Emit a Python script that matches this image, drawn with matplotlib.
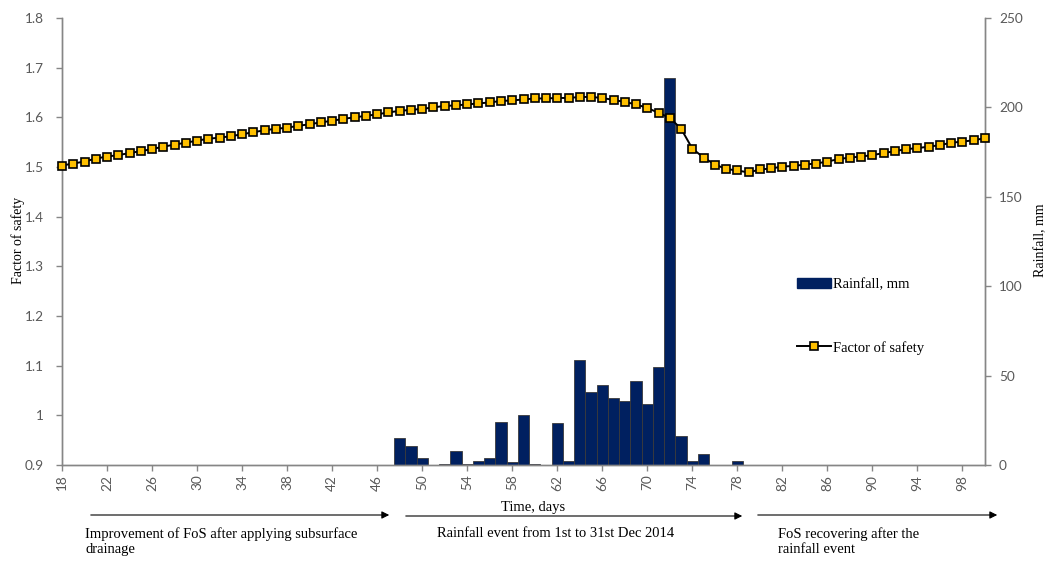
import matplotlib
matplotlib.use("Agg")
import matplotlib.pyplot as plt
from matplotlib.patches import Patch, FancyArrowPatch
from matplotlib.lines import Line2D

# ---------------- data ----------------
days = list(range(18, 101))

fos = [1.503, 1.507, 1.511, 1.517, 1.521, 1.524, 1.528, 1.532, 1.536, 1.541,
       1.545, 1.549, 1.553, 1.557, 1.559, 1.562, 1.566, 1.570, 1.574, 1.577,
       1.579, 1.583, 1.586, 1.590, 1.593, 1.597, 1.600, 1.603, 1.606, 1.610,
       1.613, 1.615, 1.617, 1.620, 1.623, 1.624, 1.626, 1.628, 1.630, 1.633,
       1.634, 1.636, 1.638, 1.638, 1.639, 1.639, 1.641, 1.641, 1.639, 1.635,
       1.631, 1.626, 1.619, 1.609, 1.599, 1.577, 1.537, 1.519, 1.505, 1.496,
       1.493, 1.489, 1.495, 1.497, 1.501, 1.502, 1.505, 1.507, 1.511, 1.516,
       1.519, 1.521, 1.524, 1.528, 1.532, 1.536, 1.538, 1.541, 1.544, 1.549,
       1.551, 1.554, 1.558]

rain_days = list(range(48, 79))
rain_vals = [15.0, 10.5, 3.7, 0.0, 0.5, 7.8, 0.5, 2.0, 3.7, 24.0,
             1.5, 28.0, 0.5, 0.0, 23.5, 2.0, 59.0, 41.0, 45.0, 37.7,
             35.6, 47.2, 34.0, 54.8, 216.5, 16.2, 2.4, 6.3, 0.0, 0.0,
             2.0]

x_tick_days = list(range(18, 99, 4))
fos_ticks = [0.9, 1.0, 1.1, 1.2, 1.3, 1.4, 1.5, 1.6, 1.7, 1.8]
fos_tick_labels = ["0.9", "1", "1.1", "1.2", "1.3", "1.4", "1.5", "1.6", "1.7", "1.8"]
rain_ticks = [0, 50, 100, 150, 200, 250]

notes = ["Improvement of FoS after applying subsurface\ndrainage",
         "Rainfall event from 1st to 31st Dec 2014",
         "FoS recovering after the\nrainfall event"]

# ---------------- styling ----------------
W, H = 1052, 565
fig = plt.figure(figsize=(W / 100, H / 100), dpi=100)
serif = ["Liberation Serif", "DejaVu Serif"]
tickfont = ["Lato", "DejaVu Sans"]
axis_grey = "#868686"
tick_col = "#595959"

L, R, T, B = 62, 985, 18, 465
ax = fig.add_axes([L / W, 1 - B / H, (R - L) / W, (B - T) / H])
ax2 = ax.twinx()

# bars on the secondary (rainfall) axis
ax2.bar(rain_days, rain_vals, width=1.0, color="#002060",
        edgecolor="#3a3a3a", linewidth=0.6, zorder=2)
ax2.set_ylim(0, 250)
ax2.set_yticks(rain_ticks)

# line on the primary axis, drawn on top
ax.plot(days, fos, color="black", lw=1.4, marker="s", markersize=5.2,
        markerfacecolor="#FFC000", markeredgecolor="black",
        markeredgewidth=1.2, zorder=5, clip_on=False)
ax.set_zorder(ax2.get_zorder() + 1)
ax.patch.set_visible(False)

ax.set_xlim(18, 100)
ax.set_ylim(0.9, 1.8)
ax.set_yticks(fos_ticks)
ax.set_yticklabels(fos_tick_labels)
ax.set_xticks(x_tick_days)
ax.set_xticklabels([str(d) for d in x_tick_days], rotation=90)

for a in (ax, ax2):
    for s in a.spines.values():
        s.set_color(axis_grey)
        s.set_linewidth(1.0)
    a.spines["top"].set_visible(False)
    a.tick_params(colors=axis_grey, labelcolor=tick_col, length=4, width=1.0,
                  direction="out")
    for lab in a.get_yticklabels() + a.get_xticklabels():
        lab.set_family(tickfont)
        lab.set_fontsize(9.8)

ax.tick_params(axis="y", pad=9)
ax2.tick_params(axis="y", pad=6)
ax.tick_params(axis="x", pad=3)

ax.set_ylabel("Factor of safety", family=serif, fontsize=10)
ax.yaxis.set_label_coords((25 - L) / (R - L), (B - 240) / (B - T))
ax2.set_ylabel("Rainfall, mm", family=serif, fontsize=10, rotation=90)
ax2.yaxis.set_label_coords((1034 - L) / (R - L), (B - 240) / (B - T))

# legend
handles = [Patch(facecolor="#002060", edgecolor="#002060"),
           Line2D([0], [0], color="black", lw=1.4, marker="s", markersize=5.2,
                  markerfacecolor="#FFC000", markeredgecolor="black",
                  markeredgewidth=1.2)]
fig.legend(handles, ["Rainfall, mm", "Factor of safety"],
           loc="upper left", bbox_to_anchor=(797 / W, 1 - 278 / H),
           frameon=False, prop={"family": serif, "size": 10.5},
           labelspacing=3.4, handlelength=2.3, handletextpad=0.2,
           borderaxespad=0, borderpad=0)

# x axis title
fig.text(533 / W, 1 - 508 / H, "Time, days", family=serif, fontsize=10.5,
         ha="center", va="center")

# arrows and notes
arrows = [(88, 392, 515), (403, 745, 516), (755, 1000, 515)]
for x0, x1, y in arrows:
    fig.add_artist(FancyArrowPatch(
        (x0 / W, 1 - y / H), (x1 / W, 1 - y / H), transform=fig.transFigure,
        arrowstyle="-|>", mutation_scale=11, lw=0.8, color="black"))

note_pos = [(85, 527), (437, 527), (778, 527)]
for (x, y), t in zip(note_pos, notes):
    fig.text(x / W, 1 - y / H, t, family=serif, fontsize=10.5,
             ha="left", va="top", linespacing=1.2)

fig.savefig("out.png", dpi=100)
